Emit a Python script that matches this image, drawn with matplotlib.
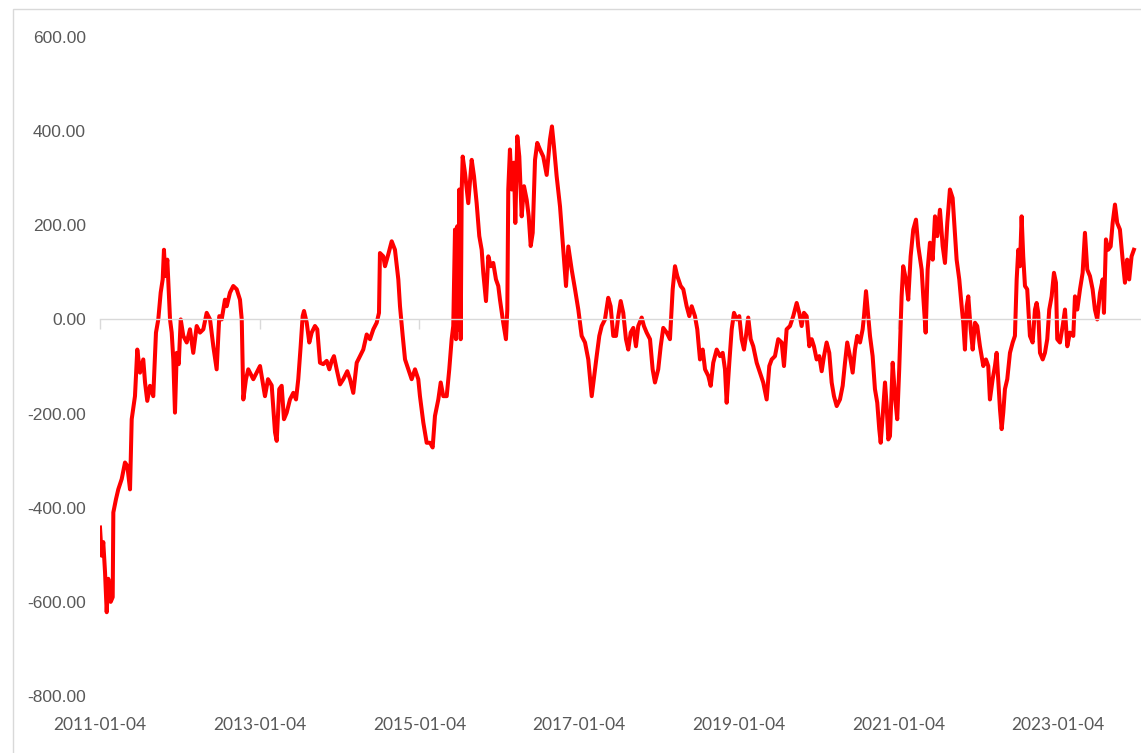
import matplotlib
matplotlib.use("Agg")
import matplotlib.pyplot as plt
from matplotlib.patches import Rectangle

# ---- data ----
start_year = 2011.0  # 2011-01-04
years_since_start = [
    0.000, 0.021, 0.041, 0.063, 0.084, 0.104, 0.134, 0.159, 0.167, 0.200,
    0.229, 0.272, 0.313, 0.342, 0.376, 0.397, 0.438, 0.467, 0.501, 0.542,
    0.564, 0.592, 0.626, 0.667, 0.701, 0.730, 0.760, 0.785, 0.801, 0.818,
    0.843, 0.877, 0.898, 0.918, 0.939, 0.961, 0.986, 1.011, 1.043, 1.086,
    1.127, 1.168, 1.211, 1.252, 1.294, 1.336, 1.378, 1.419, 1.461, 1.494,
    1.524, 1.565, 1.587, 1.628, 1.669, 1.712, 1.753, 1.775, 1.795, 1.828,
    1.857, 1.920, 1.962,
    2.004, 2.066, 2.104, 2.150, 2.192, 2.213, 2.245, 2.275, 2.304, 2.338,
    2.379, 2.421, 2.455, 2.483, 2.513, 2.538, 2.555, 2.589, 2.621, 2.651,
    2.692, 2.721, 2.755, 2.796, 2.839, 2.872, 2.902, 2.930, 2.964, 3.006,
    3.047, 3.097, 3.131, 3.172, 3.215, 3.256, 3.297, 3.340, 3.381, 3.423,
    3.465, 3.494, 3.506, 3.548, 3.569, 3.610, 3.653, 3.694, 3.736, 3.757,
    3.791, 3.820, 3.861, 3.903, 3.945, 3.986,
    4.007, 4.049, 4.091, 4.133, 4.166, 4.195, 4.237, 4.267, 4.299, 4.342,
    4.374, 4.404, 4.424, 4.446, 4.458, 4.474, 4.487, 4.500, 4.517, 4.530,
    4.542, 4.571, 4.612, 4.655, 4.684, 4.717, 4.750, 4.780, 4.800, 4.834,
    4.863, 4.893, 4.925, 4.959, 4.988, 5.009, 5.050, 5.084, 5.101, 5.113,
    5.134, 5.156, 5.184, 5.201, 5.226, 5.251, 5.281, 5.310, 5.344, 5.369,
    5.394, 5.419, 5.448, 5.476, 5.510, 5.551, 5.594, 5.635, 5.660, 5.685,
    5.719, 5.761, 5.802, 5.836, 5.865, 5.907, 5.949, 5.990,
    6.032, 6.074, 6.115, 6.158, 6.199, 6.220, 6.253, 6.283, 6.324, 6.365,
    6.395, 6.428, 6.462, 6.491, 6.521, 6.553, 6.587, 6.616, 6.646, 6.679,
    6.712, 6.741, 6.784, 6.812, 6.846, 6.888, 6.921, 6.950, 6.991, 7.022,
    7.054, 7.097, 7.138, 7.172, 7.201, 7.230, 7.272, 7.305, 7.347, 7.380,
    7.410, 7.451, 7.480, 7.514, 7.548, 7.577, 7.618, 7.648, 7.680, 7.723,
    7.764, 7.798, 7.827, 7.848, 7.881, 7.911, 7.940, 7.973, 8.006, 8.036,
    8.065, 8.090, 8.118, 8.149, 8.181, 8.224,
    8.265, 8.306, 8.349, 8.382, 8.412, 8.453, 8.494, 8.537, 8.566, 8.599,
    8.641, 8.682, 8.725, 8.757, 8.787, 8.816, 8.850, 8.883, 8.913, 8.941,
    8.975, 9.008, 9.038, 9.067, 9.100, 9.133, 9.163, 9.192, 9.226, 9.267,
    9.301, 9.330, 9.358, 9.392, 9.426, 9.455, 9.483, 9.518, 9.551, 9.568,
    9.593, 9.621, 9.643, 9.676, 9.705, 9.734, 9.759, 9.777, 9.802, 9.831,
    9.852, 9.872, 9.893, 9.927, 9.956, 9.984, 10.009, 10.039, 10.059, 10.093,
    10.122, 10.152, 10.185, 10.219, 10.247, 10.290, 10.310, 10.340, 10.365, 10.394,
    10.428, 10.457, 10.486, 10.519, 10.553, 10.582, 10.611, 10.644,
    10.678, 10.707, 10.728, 10.761, 10.791, 10.811, 10.832, 10.854, 10.874, 10.904,
    10.929, 10.958, 10.986, 11.020, 11.062, 11.095, 11.124, 11.145, 11.179, 11.208,
    11.229, 11.249, 11.271, 11.292, 11.312, 11.333, 11.362, 11.396, 11.430, 11.458,
    11.480, 11.500, 11.521, 11.542, 11.562, 11.584, 11.612, 11.646, 11.680, 11.709,
    11.730, 11.750, 11.772, 11.806, 11.834, 11.863, 11.888, 11.918, 11.947, 11.972,
    11.988, 12.022, 12.056, 12.085, 12.114, 12.147, 12.189, 12.210, 12.239, 12.273,
    12.306, 12.335, 12.364, 12.398, 12.431, 12.460, 12.489, 12.523, 12.557, 12.573,
    12.598, 12.626, 12.657, 12.682, 12.711, 12.739, 12.773, 12.807, 12.836, 12.864,
    12.889, 12.919, 12.948,
]
values = [
    -442, -502, -473, -537, -622, -551, -600, -590, -410, -382,
    -361, -339, -304, -311, -361, -212, -163, -64, -113, -85,
    -134, -173, -141, -163, -28, 0, 57, 85, 148, 92,
    127, 0, -28, -85, -198, -71, -95, 0, -35, -49,
    -21, -71, -14, -28, -21, 14, 0, -57, -106, 7,
    0, 42, 28, 57, 71, 64, 42, 0, -170, -127,
    -106, -127, -113,
    -99, -163, -127, -140, -240, -258, -148, -141, -212, -198,
    -170, -156, -170, -127, -57, 7, 18, -7, -49, -28,
    -14, -21, -92, -95, -88, -106, -88, -78, -106, -138,
    -127, -110, -127, -156, -92, -78, -64, -32, -42, -21,
    -7, 14, 141, 134, 113, 138, 166, 148, 85, 28,
    -35, -85, -106, -127, -106, -127,
    -163, -219, -262, -262, -272, -205, -170, -134, -163, -163,
    -106, -42, -14, 191, -42, 198, -21, 276, -42, 276,
    346, 311, 247, 339, 304, 247, 177, 148, 99, 39,
    134, 113, 120, 85, 71, 42, -7, -42, 21, 276,
    361, 276, 333, 205, 389, 346, 219, 283, 254, 219,
    156, 184, 339, 375, 361, 346, 307, 382, 410, 368,
    304, 240, 148, 71, 155, 106, 64, 21,
    -35, -49, -85, -163, -106, -78, -35, -14, 0, 46,
    28, -35, -35, 7, 39, 14, -42, -64, -28, -18,
    -57, -14, 4, -14, -28, -42, -106, -134, -106, -57,
    -18, -28, -42, 64, 113, 92, 71, 64, 28, 7,
    28, 7, -21, -85, -64, -106, -120, -141, -92, -64,
    -78, -71, -106, -177, -92, -21, 14, 0, 7, -42,
    -64, -35, 4, -42, -57, -92,
    -113, -134, -170, -99, -85, -78, -42, -49, -99, -21,
    -14, 7, 35, 14, -14, 14, 7, -57, -42, -57,
    -85, -78, -110, -78, -49, -71, -134, -163, -184, -170,
    -141, -92, -49, -78, -113, -64, -35, -49, -21, 7,
    60, 7, -35, -78, -148, -177, -233, -262, -205, -134,
    -184, -255, -248, -92, -163, -212, -106, 49, 113, 85,
    42, 134, 191, 212, 156, 106, 49, -28, 106, 163,
    127, 219, 177, 233, 156, 120, 205, 276,
    258, 184, 127, 85, 28, -7, -64, 28, 49, -21,
    -64, -7, -14, -57, -99, -85, -99, -170, -127, -99,
    -71, -127, -191, -233, -198, -148, -127, -71, -49, -35,
    85, 148, 113, 219, 134, 71, 64, -35, -49, 21,
    35, 14, -71, -85, -71, -42, 21, 49, 99, 78,
    -42, -49, -14, 21, -57, -28, -35, 49, 21, 64,
    99, 184, 106, 92, 64, 21, 0, 56, 85, 14,
    170, 148, 155, 205, 244, 205, 191, 127, 78, 127,
    85, 134, 148,
]
y_ticks = [-800, -600, -400, -200, 0, 200, 400, 600]
x_tick_years = [2011, 2013, 2015, 2017, 2019, 2021, 2023]
x_tick_labels = ["2011-01-04", "2013-01-04", "2015-01-04", "2017-01-04",
                 "2019-01-04", "2021-01-04", "2023-01-04"]

x = [start_year + t for t in years_since_start]

W, H = 1141, 753
fig = plt.figure(figsize=(W / 100, H / 100), dpi=100)

# chart-area border (light gray)
fig.patches.append(Rectangle((12.5 / W, -0.02), 1.05, 1 - 9.3 / H + 0.02,
                             transform=fig.transFigure, fill=False,
                             edgecolor="#D9D9D9", linewidth=1.0))

ax = fig.add_axes([100 / W, 1 - 696 / H, 1041 / W, (696 - 37) / H])
ax.set_facecolor("none")

ax.plot(x, values, color="#FF0000", linewidth=2.9, solid_joinstyle="round")

ax.set_ylim(-800, 600)
ax.set_xlim(start_year, start_year + 13.037)

for s in ["top", "right", "left"]:
    ax.spines[s].set_visible(False)
ax.spines["bottom"].set_position(("data", 0))
ax.spines["bottom"].set_color("#D9D9D9")
ax.spines["bottom"].set_linewidth(1.0)

ax.set_yticks(y_ticks)
ax.set_yticklabels([f"{v:.2f}" for v in y_ticks], fontfamily="Liberation Sans",
                   fontsize=12.5, color="#595959")
ax.tick_params(axis="y", length=0, pad=10)

ax.set_xticks(x_tick_years)
ax.tick_params(axis="x", direction="out", length=7, width=1.0,
               color="#D9D9D9", labelbottom=False)

sec = ax.secondary_xaxis(0.0)
sec.set_xticks(x_tick_years)
sec.set_xticklabels(x_tick_labels, fontfamily="Lato", fontsize=12.5,
                    color="#595959")
sec.tick_params(length=0, pad=15)
for s in sec.spines.values():
    s.set_visible(False)

fig.savefig("out.png", dpi=100, facecolor="white")
